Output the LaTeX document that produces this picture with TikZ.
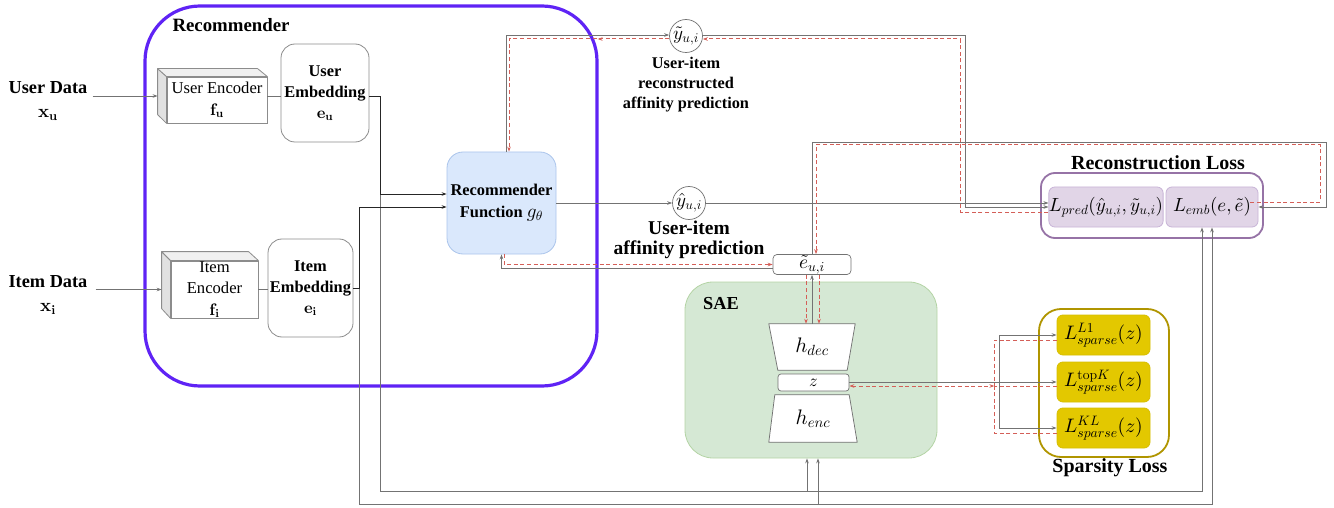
\documentclass[tikz,border=0pt]{standalone}
\usepackage[no-math]{fontspec}
\setmainfont{Liberation Serif}
\DeclareFontShape{OML}{cmm}{m}{it}{<-8> cmmi7 <8-> cmmi10}{}
\DeclareFontShape{OML}{cmm}{b}{it}{<-> cmmib10}{}
\DeclareFontShape{OMS}{cmsy}{m}{n}{<-8> cmsy7 <8-> cmsy10}{}
\DeclareFontShape{OT1}{cmr}{m}{n}{<-8> cmr7 <8-> cmr10}{}
\DeclareFontShape{OT1}{cmr}{bx}{n}{<-8> cmbx7 <8-> cmbx10}{}
\DeclareFontShape{OMX}{cmex}{m}{n}{<-> cmex10}{}
\usetikzlibrary{arrows.meta,calc,decorations.markings}
\pgfdeclarelayer{back}
\pgfdeclarelayer{mid}
\pgfsetlayers{back,mid,main}
\definecolor{recpurple}{RGB}{95,35,245}
\definecolor{gline}{RGB}{115,115,115}
\definecolor{rdash}{RGB}{212,95,88}
\definecolor{fnfill}{RGB}{218,232,252}
\definecolor{fnline}{RGB}{170,196,235}
\definecolor{saefill}{RGB}{213,232,212}
\definecolor{saeline}{RGB}{180,212,165}
\definecolor{recline}{RGB}{150,115,166}
\definecolor{recfill}{RGB}{225,213,231}
\definecolor{recin}{RGB}{200,180,215}
\definecolor{spline}{RGB}{176,149,0}
\definecolor{spfill}{RGB}{227,200,0}
\definecolor{spin}{RGB}{215,190,0}
\definecolor{boxline}{RGB}{140,140,140}
\definecolor{sideface}{RGB}{225,225,225}
\newcommand{\setfs}[2]{\fontsize{#1}{#2}\selectfont}
\tikzset{
  tip/.style={-{Stealth[length=5pt,width=3.6pt]}},
  tipboth/.style={{Stealth[length=5pt,width=3.6pt]}-{Stealth[length=5pt,width=3.6pt]}},
  gry/.style={draw=gline, line width=0.75pt},
  blk/.style={draw=black!85, line width=0.85pt},
  rdl/.style={draw=rdash, line width=1pt, dash pattern=on 4pt off 2.6pt},
  midarrow/.style={postaction={decorate, decoration={markings, mark=at position #1 with {\arrow{Stealth[length=5pt,width=3.6pt]}}}}},
  boldlbl/.style={inner sep=0pt, align=center, font=\setfs{18.3}{24}\bfseries},
  embbox/.style={draw=boxline, fill=white, rounded corners=14pt, line width=0.8pt, align=center, inner sep=0pt, font=\setfs{16.4}{21}\bfseries},
  encface/.style={draw=boxline, fill=white, line width=0.8pt, align=center, inner sep=0pt, font=\setfs{16.6}{21.5}},
  cubeside/.style={draw=boxline, line width=0.8pt, line join=round},
  fnbox/.style={draw=fnline, fill=fnfill, rounded corners=16pt, line width=0.8pt, align=center, inner sep=0pt, font=\setfs{16.4}{22}\bfseries},
  circ/.style={circle, draw=gline, fill=white, line width=0.7pt, minimum size=33pt, inner sep=0pt, font=\setfs{19}{20}},
  ebox/.style={draw=gline, fill=white, rounded corners=4pt, line width=0.7pt, inner sep=0pt, font=\setfs{19.5}{20}},
  plainn/.style={inner sep=0pt, font=\setfs{21}{22}},
  trapz/.style={draw=gline, fill=white, line width=0.75pt, line join=round},
  lossbox/.style={fill=recfill, draw=recin, rounded corners=6pt, line width=0.8pt, inner sep=0pt, minimum height=40pt, font=\setfs{19}{20}},
  spbox/.style={fill=spfill, draw=spin, rounded corners=6pt, line width=0.8pt, inner sep=0pt, minimum width=93pt, minimum height=40pt, font=\setfs{19.5}{20}},
}
\begin{document}
\begin{tikzpicture}[x=1pt,y=-1pt]
\useasboundingbox (0,0) rectangle (1334,508);

% ---------- group boxes ----------
\begin{pgfonlayer}{back}
\node[draw=recpurple, line width=3.2pt, rounded corners=55pt, minimum width=452pt, minimum height=380pt] (rec) at (371,196) {};
\node[fill=saefill, draw=saeline, line width=0.8pt, rounded corners=28pt, minimum width=252pt, minimum height=176pt] (sae) at (811,370) {};
\node[draw=recline, line width=1.8pt, fill=white, rounded corners=14pt, minimum width=222pt, minimum height=65pt] (recon) at (1152,205.5) {};
\node[draw=spline, line width=1.8pt, fill=white, rounded corners=22pt, minimum width=130pt, minimum height=148pt] (spars) at (1104,383) {};
\end{pgfonlayer}

\node[boldlbl, font=\setfs{18.8}{22}\bfseries] (reclbl) at (231,25) {Recommender};
\node[boldlbl] (saelbl) at (721,304) {SAE};
\node[boldlbl, font=\setfs{20}{22}\bfseries] (reconlbl) at (1158,163) {Reconstruction Loss};
\node[boldlbl, font=\setfs{20}{22}\bfseries] (sparslbl) at (1110,468) {Sparsity Loss};

% ---------- inputs ----------
\node[boldlbl, inner xsep=5pt] (udata) at (48,101) {User Data\\$\mathbf{x_u}$};
\node[boldlbl, inner xsep=8pt] (idata) at (48,295) {Item Data\\$\mathbf{x_i}$};

% ---------- encoders (cubes) ----------
\node[encface, minimum width=100pt, minimum height=46pt] (ue) at (217,100) {User Encoder\\$\mathbf{f_u}$};
\draw[cubeside, fill=sideface] (ue.north west) -- ++(-9,-8) -- ++(0,46) -- (ue.south west) -- cycle;
\draw[cubeside, fill=sideface!50] (ue.north west) -- ++(-9,-8) -- ++(100,0) -- (ue.north east) -- cycle;
\node[encface, minimum width=87pt, minimum height=57pt] (ie) at (214.5,289.5) {Item\\Encoder\\$\mathbf{f_i}$};
\draw[cubeside, fill=sideface] (ie.north west) -- ++(-9,-9) -- ++(0,57) -- (ie.south west) -- cycle;
\draw[cubeside, fill=sideface!50] (ie.north west) -- ++(-9,-9) -- ++(87,0) -- (ie.north east) -- cycle;

% ---------- embeddings ----------
\node[embbox, minimum width=88pt, minimum height=98pt] (uemb) at (325,93) {User\\Embedding\\$\mathbf{e_u}$};
\node[embbox, minimum width=85pt, minimum height=98pt] (iemb) at (310.5,288) {Item\\Embedding\\$\mathbf{e_i}$};

% ---------- recommender function ----------
\node[fnbox, minimum width=109pt, minimum height=102pt] (recfn) at (501.5,203) {Recommender\\Function {\setfs{19}{22}$g_\theta$}};

% ---------- predictions ----------
\node[circ] (yhat) at (689,203) {$\hat y_{u,i}$};
\node[boldlbl, font=\setfs{19.5}{19.5}\bfseries] (yhatlbl) at (689,240) {User-item\\affinity prediction};
\node[circ] (ytil) at (686,36) {$\tilde y_{u,i}$};
\node[boldlbl, font=\setfs{16.3}{20}\bfseries] (ytillbl) at (686,85) {User-item\\reconstructed\\affinity prediction};

% ---------- SAE ----------
\node[ebox, minimum width=78pt, minimum height=20pt] (etil) at (812,264.5) {$\tilde e_{u,i}$};
\node[plainn, minimum width=86pt, minimum height=46pt] (hdec) at (812,347) {$h_{dec}$};
\node[ebox, minimum width=71pt, minimum height=17pt, rounded corners=3pt, font=\setfs{17}{18}] (z) at (813.5,382.5) {$z$};
\node[plainn, minimum width=88pt, minimum height=47pt] (henc) at (813,418.5) {$h_{enc}$};
\begin{pgfonlayer}{mid}
\draw[trapz] (hdec.north west) -- (hdec.north east) -- ($(hdec.south east)+(-8,0)$) -- ($(hdec.south west)+(9,0)$) -- cycle;
\draw[trapz] ($(henc.north west)+(6,0)$) -- ($(henc.north east)+(-8,0)$) -- (henc.south east) -- (henc.south west) -- cycle;
\end{pgfonlayer}

% ---------- losses ----------
\node[lossbox, minimum width=114pt] (lpred) at (1106,207) {$L_{pred}(\hat y_{u,i},\tilde y_{u,i})$};
\node[lossbox, minimum width=92pt] (lemb) at (1212,207) {$L_{emb}(e,\tilde e)$};
\node[spbox] (l1) at (1103.5,335) {$L^{L1}_{sparse}(z)$};
\node[spbox] (topk) at (1103.5,382) {$L^{\mathrm{top}K}_{sparse}(z)$};
\node[spbox] (kl) at (1103.5,428) {$L^{KL}_{sparse}(z)$};

% ---------- helper coordinates ----------
\coordinate (ueIn) at ($(ue.west)+(-9,-4)$);
\coordinate (ueOut) at ($(ue.east)+(0,-4)$);
\coordinate (ieIn) at ($(ie.west)+(-9,0)$);
\coordinate (uo) at ($(uemb.east)+(0,3)$);
\coordinate (ubot) at (380,491);
\coordinate (ibot) at (359,504);
\coordinate (lembU) at ($(lemb.south)+(-10,0)$);
\coordinate (saeU) at ($(sae.south)+(-4,0)$);
\coordinate (saeI) at ($(sae.south)+(7,0)$);
\coordinate (gsp) at ($(z.east)+(150,0)$);
\coordinate (rsp) at ($(z.east)+(145,3.5)$);

% ---------- connectors: inputs ----------
\draw[gry,tip] (udata.east |- ueIn) -- (ueIn);
\draw[gry] (ueOut) -- (uemb.west |- ueOut);
\draw[gry,tip] (idata.east |- ieIn) -- (ieIn);
\draw[gry] (ie.east) -- (iemb.west |- ie.east);

% ---------- embedding buses ----------
\draw[gry,tip] (uo) -- (uo -| ubot) -- (ubot) -| (lembU);
\draw[gry,tip] (iemb.east) -- (iemb.east -| ibot) -- (ibot) -| (lemb.south);
\draw[gry,tip] (saeU |- ubot) -- (saeU);
\draw[gry,tip] (saeI |- ibot) -- (saeI);
\draw[blk,tip] (uo) -- (uo -| ubot) |- ([yshift=9pt]recfn.west);
\draw[blk,tip] (iemb.east) -- (iemb.east -| ibot) |- ([yshift=-4pt]recfn.west);

% ---------- predictions ----------
\draw[gry,tip] (recfn.east) -- (yhat.west);
\draw[gry,tip] (yhat.east) -- (lpred.west |- yhat.east);
\draw[gry,tip] ([xshift=4.5pt]recfn.north) |- ([yshift=1pt]ytil.west);
\draw[rdl,tip,midarrow=71.5pt] ([yshift=-3pt]ytil.west) -| ([xshift=7.5pt]recfn.north);
\draw[gry,tip] ([yshift=1pt]ytil.east) -- ++(263,0) |- (lpred.west);
\draw[rdl,tip] ([yshift=-5pt]lpred.west) -- ++(-88,0) |- ([yshift=-3pt]ytil.east);

% ---------- reconstructed embedding ----------
\draw[gry,tip] (etil.north) -- ++(0,-112) -- ++(514,0) |- (lemb.east);
\draw[rdl,tip] ([xshift=-8pt,yshift=5pt]lemb.east) -- ++(70,0) -- ++(0,-57) -| ([xshift=4pt]etil.north);
\draw[gry,tip] ([yshift=-3.5pt]etil.west) -| (recfn.south);
\draw[rdl,tip] ([xshift=2.5pt]recfn.south) |- (etil.west);
\draw[gry,tip] (hdec.north) -- (etil.south);
\draw[rdl,tip] ([xshift=-6pt]etil.south) -- ([xshift=-6pt]hdec.north);
\draw[rdl,tip] ([xshift=7pt]etil.south) -- ([xshift=7pt]hdec.north);

% ---------- sparsity ----------
\draw[gry] (z.east) -- (gsp);
\draw[gry,tip] (gsp) |- (l1.west);
\draw[gry,tip] (gsp) |- (topk.west);
\draw[gry,tip] (gsp) |- (kl.west);
\draw[rdl,tipboth] ([yshift=-3.5pt]z.east) -- (rsp);
\draw[rdl] ([yshift=-5pt]l1.west) -| (rsp);
\draw[rdl] ([yshift=-4pt]topk.west) -- (rsp);
\draw[rdl] ([yshift=-5pt]kl.west) -| (rsp);
\end{tikzpicture}
\end{document}
